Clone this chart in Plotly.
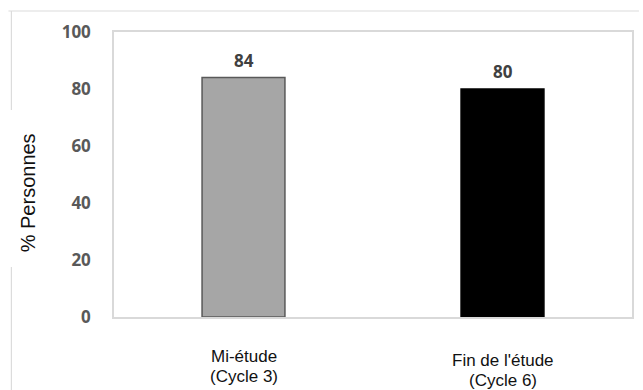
import plotly.graph_objects as go

# Share of people, by study time point
categories = ["Mi-étude<br>(Cycle 3)", "Fin de l'étude<br>(Cycle 6)"]
values = [84, 80]
bar_colors = ["#a6a6a6", "#000000"]
bar_outlines = ["#595959", "#000000"]
y_ticks = [0, 20, 40, 60, 80, 100]
y_title = "% Personnes"

W, H = 643, 390
L, R, T, B = 114, 9, 32, 73
PW, PH = W - L - R, H - T - B


def px(xp):
    """Page pixel x -> paper fraction."""
    return (xp - L) / PW


def py(yp):
    """Page pixel y (from top) -> paper fraction."""
    return (H - B - yp) / PH


fig = go.Figure()
fig.add_trace(go.Bar(
    x=categories,
    y=values,
    marker=dict(color=bar_colors, line=dict(color=bar_outlines, width=1.5)),
    width=0.32,
    hoverinfo="skip",
))

# Value labels above each bar
for cat, val in zip(categories, values):
    fig.add_annotation(
        x=cat, y=val, xref="x", yref="y",
        text=str(val), showarrow=False,
        yanchor="bottom", yshift=4,
        font=dict(family="Open Sans", size=17, color="#404040", weight="bold"),
    )

# Category labels under the axis, one annotation per line for tight leading
first_line_y = [356, 360]
line_step = 20
for cat, y0 in zip(categories, first_line_y):
    for i, line in enumerate(cat.split("<br>")):
        fig.add_annotation(
            x=cat, y=py(y0 + i * line_step), xref="x", yref="paper",
            text=line, showarrow=False,
            yanchor="middle", borderpad=0,
            font=dict(family="Liberation Sans, Arial", size=17, color="#111111"),
        )

# Y axis title
fig.add_annotation(
    x=px(28), y=py(193), xref="paper", yref="paper",
    text=y_title, showarrow=False, textangle=-90,
    xanchor="center", yanchor="middle",
    font=dict(family="Liberation Sans, Arial", size=20, color="#111111"),
)

# Outer frame pieces (top edge and left edge, broken where the title sits)
frame = dict(color="#dcdcdc", width=1.2)
fig.add_shape(type="line", xref="paper", yref="paper",
              x0=px(8), x1=px(641), y0=py(11), y1=py(11), line=frame)
fig.add_shape(type="line", xref="paper", yref="paper",
              x0=px(11), x1=px(11), y0=py(11), y1=py(110), line=frame)
fig.add_shape(type="line", xref="paper", yref="paper",
              x0=px(11), x1=px(11), y0=py(267), y1=py(390), line=frame)

fig.update_layout(
    width=W, height=H,
    margin=dict(l=L, r=R, t=T, b=B),
    paper_bgcolor="white",
    plot_bgcolor="white",
    showlegend=False,
    bargap=0.68,
    xaxis=dict(
        showticklabels=False, ticks="",
        showline=True, mirror=True, linecolor="#d9d9d9", linewidth=1.5,
        showgrid=False, zeroline=False,
    ),
    yaxis=dict(
        range=[0, 100], tickvals=y_ticks,
        showline=True, mirror=True, linecolor="#d9d9d9", linewidth=1.5,
        showgrid=False, zeroline=False, ticks="",
        ticklabelstandoff=18,
        tickfont=dict(family="Open Sans", size=17, color="#595959", weight="bold"),
    ),
)

fig.write_html("out.html")
